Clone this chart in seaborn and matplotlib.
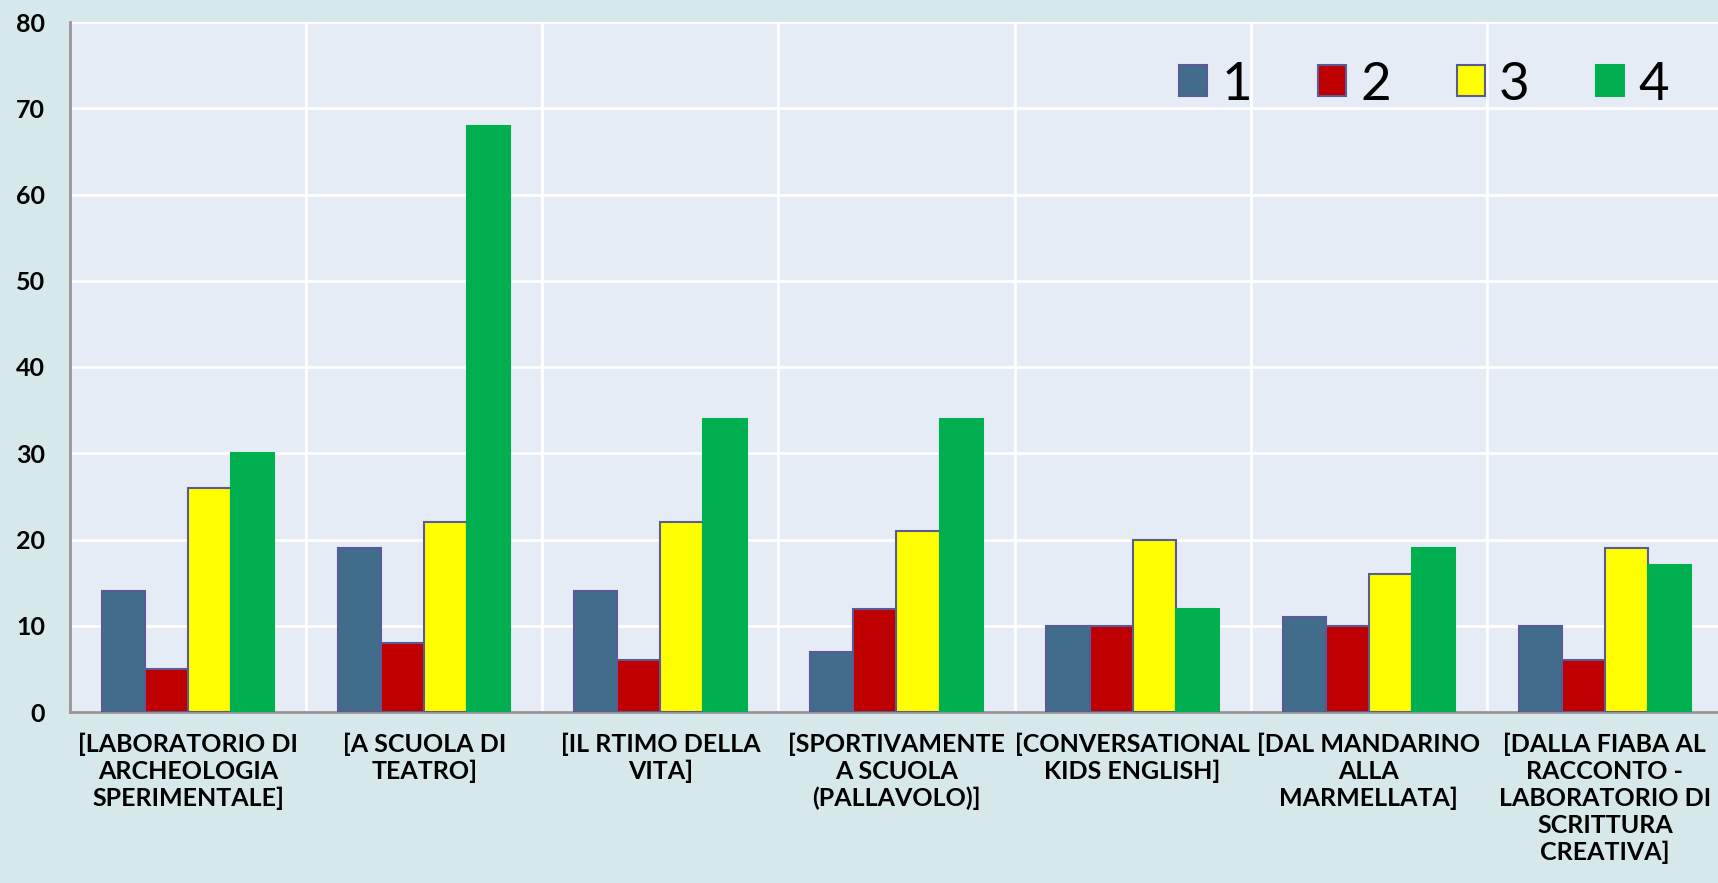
import matplotlib
matplotlib.use("Agg")
import matplotlib.pyplot as plt
import seaborn as sns
import pandas as pd
import numpy as np
from matplotlib.patches import Patch

categories = [
    "[LABORATORIO DI\nARCHEOLOGIA\nSPERIMENTALE]",
    "[A SCUOLA DI\nTEATRO]",
    "[IL RTIMO DELLA\nVITA]",
    "[SPORTIVAMENTE\nA SCUOLA\n(PALLAVOLO)]",
    "[CONVERSATIONAL\nKIDS ENGLISH]",
    "[DAL MANDARINO\nALLA\nMARMELLATA]",
    "[DALLA FIABA AL\nRACCONTO -\nLABORATORIO DI\nSCRITTURA\nCREATIVA]",
]
series_names = ["1", "2", "3", "4"]
values_1 = [14, 19, 14, 7, 10, 11, 10]
values_2 = [5, 8, 6, 12, 10, 10, 6]
values_3 = [26, 22, 22, 21, 20, 16, 19]
values_4 = [30, 68, 34, 34, 12, 19, 17]
y_ticks = [0, 10, 20, 30, 40, 50, 60, 70, 80]

colors = ["#416C8C", "#C00000", "#FFFF00", "#00B050"]
edges = ["#5A5A96", "#5A5A96", "#5A5A96", "#00B050"]

rows = []
for name, vals in zip(series_names, [values_1, values_2, values_3, values_4]):
    for c, v in zip(categories, vals):
        rows.append({"cat": c, "series": name, "value": v})
df = pd.DataFrame(rows)

sns.set_style("white")
plt.rcParams["font.family"] = ["Lato", "DejaVu Sans"]

fig = plt.figure(figsize=(17.18, 8.83), dpi=100)
fig.patch.set_facecolor("#D6E8EA")
ax = fig.add_axes([70 / 1718, 1 - 712 / 883, 1653 / 1718, 690 / 883])
ax.set_facecolor("#E6ECF6")

sns.barplot(data=df, x="cat", y="value", hue="series", order=categories,
            hue_order=series_names, palette=colors, width=0.73, gap=0,
            saturation=1, ax=ax, legend=False, zorder=3)

n = len(categories)
for i, cont in enumerate(ax.containers):
    for bar in cont:
        bar.set_edgecolor(edges[i])
        bar.set_linewidth(1.5)

ax.set_xlim(-0.5, n - 0.5)
ax.set_ylim(0, 80)
ax.set_yticks(y_ticks)
ax.set_xlabel("")
ax.set_ylabel("")

ax.set_xticks(np.arange(n))
ax.set_xticklabels(categories, fontsize=18, fontweight="bold", linespacing=1.2, color="black")
ax.set_xticks(np.arange(n + 1) - 0.5, minor=True)
ax.tick_params(axis="x", which="major", length=0, pad=15)
ax.tick_params(axis="x", which="minor", length=6, width=1.5, color="#969696", direction="out")
ax.tick_params(axis="y", length=6, width=1.5, color="#969696", direction="out", pad=12,
               labelsize=18, labelcolor="black")
for t in ax.get_yticklabels():
    t.set_fontweight("bold")

ax.grid(True, axis="y", color="white", linewidth=2, zorder=0)
ax.grid(True, axis="x", which="minor", color="white", linewidth=2, zorder=0)
ax.set_axisbelow(True)

for s in ["top", "right"]:
    ax.spines[s].set_visible(False)
for s in ["left", "bottom"]:
    ax.spines[s].set_color("#969696")
    ax.spines[s].set_linewidth(2)

handles = [Patch(facecolor=colors[i], edgecolor=edges[i], linewidth=1.5, label=series_names[i])
           for i in range(4)]
leg = fig.legend(handles=handles, loc="center", bbox_to_anchor=(1424 / 1718, 1 - 85 / 883),
                 ncol=4, frameon=False, prop={"family": ["Lato", "DejaVu Sans"], "size": 38},
                 handlelength=0.53, handleheight=0.53, handletextpad=0.27, columnspacing=1.25)
for t in leg.get_texts():
    t.set_color("black")

fig.savefig("out.png", dpi=100, facecolor=fig.get_facecolor())
